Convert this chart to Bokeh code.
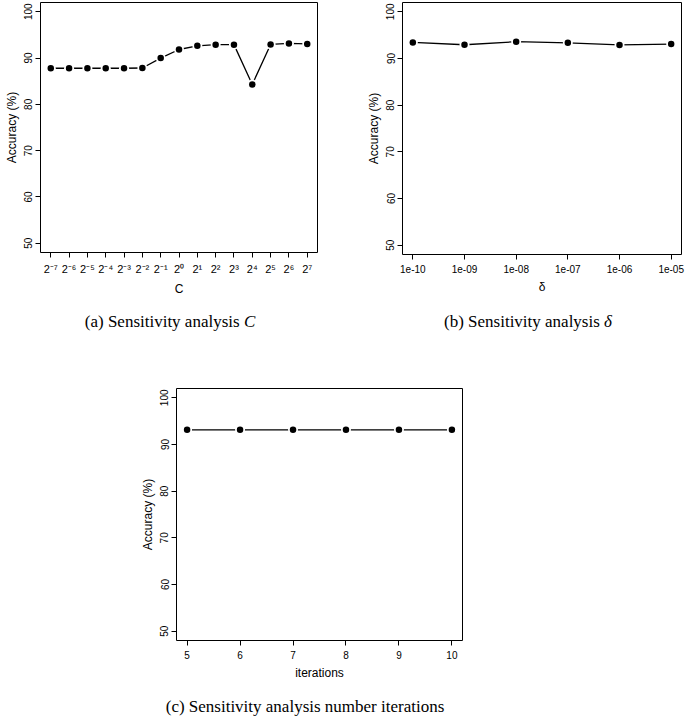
from bokeh.plotting import figure
from bokeh.models import FixedTicker, Div, Spacer
from bokeh.layouts import column, row
from bokeh.embed import file_html
from bokeh.resources import INLINE

# ---- data ----
c_exponents = [-7, -6, -5, -4, -3, -2, -1, 0, 1, 2, 3, 4, 5, 6, 7]
c_tick_labels = ["2⁻⁷", "2⁻⁶", "2⁻⁵", "2⁻⁴", "2⁻³", "2⁻²", "2⁻¹", "2⁰",
                 "2¹", "2²", "2³", "2⁴", "2⁵", "2⁶", "2⁷"]
acc_c = [87.8, 87.8, 87.8, 87.8, 87.8, 87.85, 90.0, 91.85, 92.65, 92.9,
         92.9, 84.3, 92.95, 93.15, 93.05]

delta_exponents = [-10, -9, -8, -7, -6, -5]
delta_tick_labels = ["1e-10", "1e-09", "1e-08", "1e-07", "1e-06", "1e-05"]
acc_delta = [93.45, 92.95, 93.6, 93.35, 92.9, 93.1]

iterations = [5, 6, 7, 8, 9, 10]
iter_tick_labels = ["5", "6", "7", "8", "9", "10"]
acc_iter = [93.15, 93.15, 93.15, 93.15, 93.15, 93.15]

y_ticks = [50, 60, 70, 80, 90, 100]
y_label = "Accuracy (%)"


def pad(vals, frac=0.04):
    lo, hi = min(vals), max(vals)
    d = (hi - lo) * frac
    return (lo - d, hi + d)


def panel(xs, ys, tick_labels, x_label, width, height, bl, br, bt, bb, xfs="10px"):
    p = figure(width=width, height=height, x_range=pad(xs), y_range=pad(y_ticks),
               output_backend="svg", toolbar_location=None,
               min_border_left=bl, min_border_right=br,
               min_border_top=bt, min_border_bottom=bb)
    p.xgrid.visible = False
    p.ygrid.visible = False
    p.outline_line_color = "black"
    p.outline_line_width = 1
    p.outline_line_alpha = 1
    p.background_fill_color = "white"
    p.border_fill_color = "white"

    p.line(xs, ys, line_color="black", line_width=1.3)
    p.scatter(xs, ys, size=10, fill_color="white", line_color=None)
    p.scatter(xs, ys, size=6.5, fill_color="black", line_color=None)

    p.xaxis.ticker = FixedTicker(ticks=list(xs))
    p.xaxis.major_label_overrides = {x: lab for x, lab in zip(xs, tick_labels)}
    p.yaxis.ticker = FixedTicker(ticks=y_ticks)
    p.yaxis.major_label_orientation = "parallel"
    p.xaxis.axis_label = x_label
    p.yaxis.axis_label = y_label
    for ax in (p.xaxis, p.yaxis):
        ax.axis_line_color = None
        ax.major_tick_out = 5
        ax.major_tick_in = 0
        ax.minor_tick_line_color = None
        ax.major_tick_line_color = "black"
        ax.major_label_text_font = "Liberation Sans"
        ax.major_label_text_font_size = "10px"
        ax.major_label_text_color = "black"
        ax.axis_label_text_font = "Liberation Sans"
        ax.axis_label_text_font_size = "12px"
        ax.axis_label_text_font_style = "normal"
        ax.axis_label_text_color = "black"
    p.xaxis.major_label_text_font_size = xfs
    p.xaxis.major_label_standoff = 5
    p.xaxis.axis_label_standoff = 4
    p.yaxis.major_label_standoff = 3
    p.yaxis.axis_label_standoff = 3
    return p


def caption(html, width, height, pad_top, shift):
    return Div(text=('<div style="width:%dpx;text-align:center;position:relative;left:%dpx;'
                     'font-family:\'Liberation Serif\',serif;font-size:17px;'
                     'line-height:20px;padding-top:%dpx;color:black;white-space:nowrap">%s</div>'
                     % (width, shift, pad_top, html)),
               width=width, height=height)


p_a = panel(c_exponents, acc_c, c_tick_labels, "C", 352, 298, 40, 35, 2, 44, xfs="11px")
p_b = panel(delta_exponents, acc_delta, delta_tick_labels, "δ", 324, 298, 40, 5, 2, 44)
p_c = panel(iterations, acc_iter, iter_tick_labels, "iterations", 356, 342, 40, 30, 46, 44)

cap_a = caption("(a) Sensitivity analysis <i>C</i>", 352, 34, 9, -11)
cap_b = caption("(b) Sensitivity analysis <i>δ</i>", 324, 34, 9, -1)
cap_c = caption("(c) Sensitivity analysis number iterations", 356, 29, 8, -14)

layout = column(
    row(column(p_a, cap_a), column(p_b, cap_b)),
    row(Spacer(width=136, height=10), column(p_c, cap_c)),
)

open("out.html", "w").write(file_html(layout, INLINE))
